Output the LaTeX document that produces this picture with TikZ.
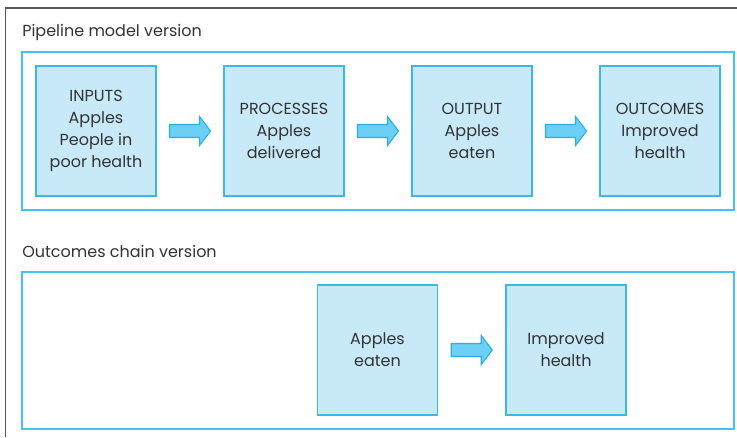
\documentclass[tikz,border=0pt]{standalone}
\usepackage{fontspec}
\setmainfont{Poppins}
\usetikzlibrary{calc}
\definecolor{boxfill}{HTML}{C7E9F8}
\definecolor{boxline}{HTML}{3BB8E8}
\definecolor{framec}{HTML}{45C3F2}
\definecolor{arrfill}{HTML}{6CCFF6}
\definecolor{arrline}{HTML}{2AAEE4}
\definecolor{txt}{HTML}{333333}
\tikzset{
  stagebox/.style={draw=boxline, fill=boxfill, line width=1.2pt, minimum width=90pt, minimum height=97.5pt, inner sep=0, align=center, text=txt, font=\fontsize{12}{16.5}\selectfont},
  frame/.style={draw=framec, line width=1.5pt},
  caption/.style={anchor=west, inner sep=0, text=txt, font=\fontsize{12}{14}\selectfont},
  blockarr/.style={draw=arrline, fill=arrfill, line width=0.8pt, line join=miter},
}
\newcommand{\blockarrow}[1]{%
  \draw[blockarr] ($(#1)+(-20.5,6.5)$) -- ++(30,0) -- ++(0,8) -- ++(11,-14.5) -- ++(-11,-14.5) -- ++(0,8) -- ++(-30,0) -- cycle;}
\begin{document}
\begin{tikzpicture}[x=0.75pt,y=0.75pt]
\useasboundingbox (0,0) rectangle (737,437);
\fill[white] (0,0) rectangle (737,437);
% outer gray frame
\draw[line width=1.2pt, draw=black!65] (5.5,0) -- (5.5,429) -- (737,429);
% frames
\node[caption] (cap1) at (22,405) {Pipeline model version};
\draw[frame] (22,227) rectangle (734,385);
\node[caption] (cap2) at (22,186) {Outcomes chain version};
\draw[frame] (22,8) rectangle (734,165);
% top row
\node[stagebox] (in) at (96,306) {INPUTS\\Apples\\People in\\poor health};
\node[stagebox] (pr) at (284,306) {PROCESSES\\Apples\\delivered};
\node[stagebox] (out) at (472,306) {OUTPUT\\Apples\\eaten};
\node[stagebox] (oc) at (660,306) {OUTCOMES\\Improved\\health};
\coordinate (m1) at ($(in.east)!0.5!(pr.west)$);
\coordinate (m2) at ($(pr.east)!0.5!(out.west)$);
\coordinate (m3) at ($(out.east)!0.5!(oc.west)$);
\blockarrow{m1}
\blockarrow{m2}
\blockarrow{m3}
% bottom row
\node[stagebox] (ae) at (377.5,87) {Apples\\eaten};
\node[stagebox] (ih) at (566,87) {Improved\\health};
\coordinate (m4) at ($(ae.east)!0.5!(ih.west)$);
\blockarrow{m4}
\end{tikzpicture}
\end{document}
